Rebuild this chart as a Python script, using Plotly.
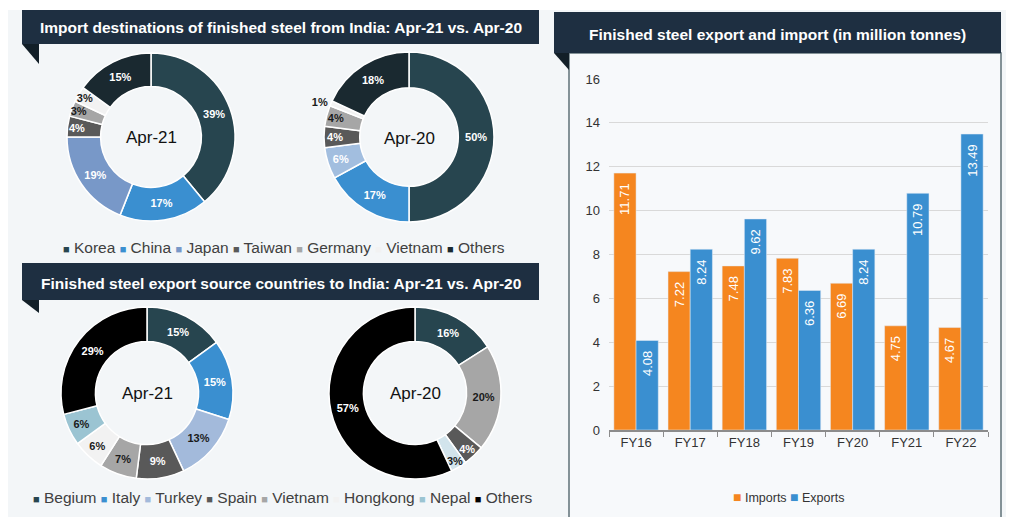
import plotly.graph_objects as go

W, H = 1014, 517
OFF = 8  # the page adds an 8px body margin; positions below are measured on the final picture
FONT = "Liberation Sans, Arial, sans-serif"

# --- data -------------------------------------------------------------
imp_labels = ["Korea", "China", "Japan", "Taiwan", "Germany", "Vietnam", "Others"]
imp_apr21 = [39, 17, 19, 4, 3, 3, 15]
imp_apr20 = [50, 17, 6, 4, 4, 1, 18]

exp_labels = ["Begium", "Italy", "Turkey", "Spain", "Vietnam", "Hongkong", "Nepal", "Others"]
exp_apr21 = [15, 15, 13, 9, 7, 6, 6, 29]
exp20_labels = ["Begium", "Vietnam", "Spain", "Nepal", "Others"]
exp_apr20 = [16, 20, 4, 3, 57]

years = ["FY16", "FY17", "FY18", "FY19", "FY20", "FY21", "FY22"]
imports = [11.71, 7.22, 7.48, 7.83, 6.69, 4.75, 4.67]
exports = [4.08, 8.24, 9.62, 6.36, 8.24, 10.79, 13.49]

# --- colours ----------------------------------------------------------
WHITE, DARK = "#ffffff", "#1a1a1a"
col = {"Korea": "#27454f", "China": "#3a8fd0", "Japan": "#7898c8", "Taiwan": "#595959",
       "Germany": "#a6a6a6", "Vietnam": "#f2f2f2", "Others": "#1a2930"}
col_exp = {"Begium": "#27454f", "Italy": "#3a8fd0", "Turkey": "#a3badb", "Spain": "#595959",
           "Vietnam": "#a6a6a6", "Hongkong": "#f2f2f2", "Nepal": "#9bc4d2", "Others": "#000000"}
ORANGE, BLUE = "#f5861f", "#3a8fd0"


def px(x):
    return (x - OFF) / W


def py(y):
    return 1 - (y - OFF) / H


def dom(cx, cy, r):
    return dict(x=[px(cx - r), px(cx + r)], y=[py(cy + r), py(cy - r)])


def donut(values, labels, colors, tcolors, domain, hole=0.6, tpos="inside"):
    return go.Pie(
        values=values, labels=labels, domain=domain, hole=hole,
        sort=False, direction="clockwise", rotation=0,
        marker=dict(colors=colors, line=dict(color="white", width=1.5)),
        texttemplate="%{value}%", textposition=tpos,
        insidetextorientation="horizontal",
        textfont=dict(color=tcolors, size=11, family=FONT, weight="bold"),
        showlegend=False, hoverinfo="label+value",
    )


fig = go.Figure()

# top donuts
fig.add_trace(donut(imp_apr21, imp_labels, [col[l] for l in imp_labels],
                    [WHITE, WHITE, WHITE, WHITE, DARK, DARK, WHITE], dom(151, 137, 84)))
c20 = [col[l] for l in imp_labels]
c20[2] = "#a2bedf"
fig.add_trace(donut(imp_apr20, imp_labels, c20,
                    [WHITE, WHITE, WHITE, WHITE, DARK, DARK, WHITE], dom(409, 137, 85), hole=0.58,
                    tpos=["inside"] * 5 + ["outside", "inside"]))

# bottom donuts
fig.add_trace(donut(exp_apr21, exp_labels, [col_exp[l] for l in exp_labels],
                    [WHITE, WHITE, DARK, WHITE, DARK, DARK, DARK, WHITE], dom(147, 393, 86)))
c20b = [col_exp[l] for l in exp20_labels]
c20b[3] = "#d2e4ec"
fig.add_trace(donut(exp_apr20, exp20_labels, c20b,
                    [WHITE, DARK, WHITE, DARK, WHITE], dom(415, 393, 86)))

# bars
for name, vals, c in [("Imports", imports, ORANGE), ("Exports", exports, BLUE)]:
    fig.add_trace(go.Bar(x=years, y=vals, name=name, marker_color=c,
                         texttemplate="%{y:.2f}\u00a0\u00a0", textposition="inside",
                         insidetextanchor="end", textangle=-90,
                         textfont=dict(color="white", size=13, family=FONT),
                         showlegend=False, xaxis="x", yaxis="y"))

# --- decoration shapes ------------------------------------------------
NAVY, TAB = "#1e2f41", "#121f28"
shapes = [
    dict(type="rect", x0=px(8), x1=px(W + OFF), y0=py(H + OFF), y1=py(10), fillcolor="#f3f6f8",
         line_width=0),
    dict(type="rect", x0=px(22), x1=px(539), y0=py(44), y1=py(10), fillcolor=NAVY, line_width=0),
    dict(type="rect", x0=px(22), x1=px(539), y0=py(300), y1=py(263), fillcolor=NAVY, line_width=0),
    dict(type="rect", x0=px(569), x1=px(1001), y0=py(H + OFF + 5), y1=py(53), fillcolor="#f7f9fb",
         line=dict(color="#5f7077", width=1.5)),
    dict(type="rect", x0=px(554), x1=px(1001), y0=py(53), y1=py(12), fillcolor=NAVY, line_width=0),
]
for (x0, x1, y0, y1) in [(22, 39, 44, 64), (22, 39, 300, 313), (554, 569, 53, 70)]:
    shapes.append(dict(type="path", fillcolor=TAB, line_width=0,
                       path=f"M{px(x0)},{py(y0)} L{px(x1)},{py(y0)} L{px(x1)},{py(y1)} Z"))
for s in shapes:
    s.update(xref="paper", yref="paper", layer="below")


def legend_text(labels, colors, msize=11):
    return " ".join(f"<span style='color:{c};font-size:{msize}px'>■</span> {l}"
                    for l, c in zip(labels, colors))


ann = []
title_font = dict(family=FONT, size=15.5, color="white", weight="bold")
for txt, x, y in [("Import destinations of finished steel from India: Apr-21 vs. Apr-20", 281, 28),
                  ("Finished steel export source countries to India: Apr-21 vs. Apr-20", 281, 283),
                  ("Finished steel export and import (in million tonnes)", 777, 34)]:
    ann.append(dict(text=txt, x=px(x), y=py(y), font=title_font))
for x, y, t in [(151, 137, "Apr-21"), (409, 138, "Apr-20"), (147, 393, "Apr-21"), (415, 393, "Apr-20")]:
    ann.append(dict(text=t, x=px(x), y=py(y), font=dict(family=FONT, size=17, color="#111111")))
ann.append(dict(text=legend_text(imp_labels, [col[l] for l in imp_labels]), x=px(284), y=py(247),
                font=dict(family=FONT, size=15.5, color="#404040")))
ann.append(dict(text=legend_text(exp_labels, [col_exp[l] for l in exp_labels]), x=px(283), y=py(498),
                font=dict(family=FONT, size=15.5, color="#404040")))
ann.append(dict(text=legend_text(["Imports", "Exports"], [ORANGE, BLUE], msize=14), x=px(788),
                y=py(497), font=dict(family=FONT, size=12.5, color="#333333")))
for a in ann:
    a.update(xref="paper", yref="paper", showarrow=False, xanchor="center", yanchor="middle")

fig.update_layout(
    width=W, height=H, margin=dict(l=0, r=0, t=0, b=0, autoexpand=False),
    paper_bgcolor="white", plot_bgcolor="rgba(0,0,0,0)",
    font=dict(family=FONT, color="#333333"),
    shapes=shapes, annotations=ann,
    barmode="group", bargap=0.18, bargroupgap=0,
    uniformtext=dict(minsize=11, mode="show"),
    xaxis=dict(domain=[px(609), px(988)], anchor="y", showgrid=False, showline=True,
               linecolor="#8c8c8c", linewidth=1.5, ticks="outside", tickson="boundaries",
               ticklen=5, tickcolor="#8c8c8c", tickfont=dict(size=13, color="#333333")),
    yaxis=dict(domain=[py(430), py(79)], range=[0, 16], dtick=2, showgrid=True,
               gridcolor="#d9d9d9", gridwidth=1, zeroline=False, showline=False,
               ticks="", ticklabelstandoff=8, tickfont=dict(size=13, color="#333333")),
    showlegend=False,
)

fig.write_html("out.html")
